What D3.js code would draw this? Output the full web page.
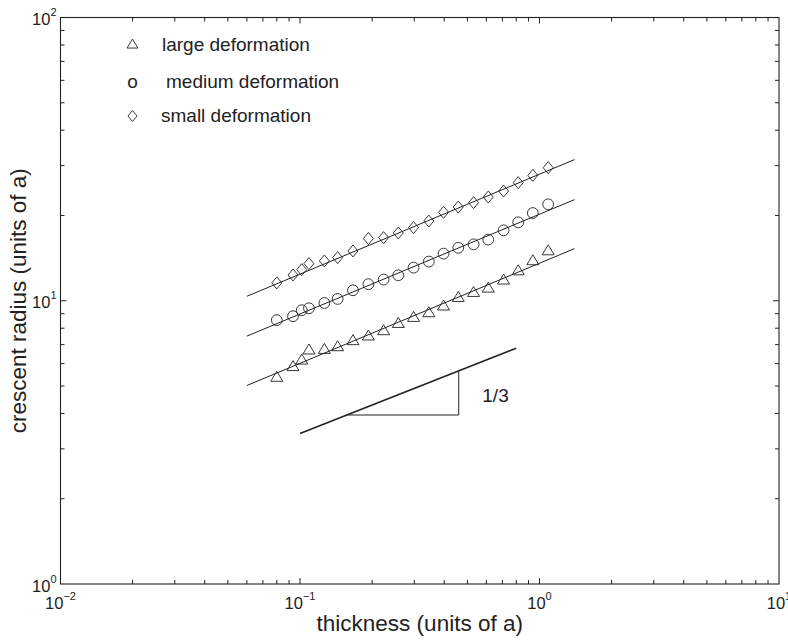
<!DOCTYPE html>
<html>
<head>
<meta charset="utf-8">
<script src="https://cdn.jsdelivr.net/npm/d3@7"></script>
<style>
  html, body { margin: 0; padding: 0; background: #fff; }
  svg { display: block; }
  text { font-family: "Liberation Sans", Arial, Helvetica, sans-serif; fill: #222; }
</style>
</head>
<body>
<svg id="chart" width="788" height="641"></svg>
<script>
// ---- data ----
const thickness = [0.080, 0.0935, 0.1017, 0.109, 0.1264, 0.1436, 0.1664, 0.193, 0.2234, 0.2573,
                   0.298, 0.345, 0.3976, 0.458, 0.5305, 0.611, 0.708, 0.815, 0.938, 1.087];
const largeDef  = [5.39, 5.88, 6.20, 6.73, 6.76, 6.91, 7.26, 7.54, 7.87, 8.35,
                   8.77, 9.11, 9.62, 10.31, 10.74, 11.13, 11.88, 12.81, 13.90, 15.07];
const mediumDef = [8.54, 8.82, 9.26, 9.41, 9.82, 10.15, 10.89, 11.44, 11.88, 12.30,
                   13.09, 13.75, 14.67, 15.38, 15.82, 16.44, 17.73, 18.92, 20.40, 21.90];
const smallDef  = [11.56, 12.33, 12.88, 13.53, 13.82, 14.20, 14.99, 16.58, 16.71, 17.35,
                   18.13, 19.12, 20.52, 21.42, 22.20, 23.24, 24.40, 26.12, 27.71, 29.50];
// fitted power-law lines (endpoints)
const fitX      = [0.06, 1.4];
const fitLarge  = [5.02, 15.28];
const fitMedium = [7.5, 22.75];
const fitSmall  = [10.37, 31.5];
// slope guide (1/3)
const slopeX = [0.1, 0.8];
const slopeY = [3.4, 6.8];
const triX = [0.158, 0.46];
const triY = [3.95, 5.65];
const slopeLabel = "1/3";
const seriesNames = ["large deformation", "medium deformation", "small deformation"];
const xTickExps = [-2, -1, 0, 1];
const yTickExps = [0, 1, 2];
const xLabel = "thickness (units of a)";
const yLabel = "crescent radius (units of a)";

// ---- layout ----
const svg = d3.select("#chart");
const L = 60.5, R = 779, T = 17.5, B = 584;
const x = d3.scaleLog().domain([0.01, 10]).range([L, R]);
const y = d3.scaleLog().domain([1, 100]).range([B, T]);
const ink = "#222";

// frame
svg.append("rect").attr("x", L).attr("y", T).attr("width", R - L).attr("height", B - T)
  .attr("fill", "none").attr("stroke", ink).attr("stroke-width", 1.1);

// ticks (inside, all four sides)
function logTicks(lo, hi) {
  const out = [];
  for (let e = lo; e < hi; e++) {
    for (let m = 1; m <= 9; m++) out.push({v: m * Math.pow(10, e), major: m === 1});
  }
  out.push({v: Math.pow(10, hi), major: true});
  return out;
}
const tg = svg.append("g").attr("stroke", ink).attr("stroke-width", 1);
logTicks(-2, 1).forEach(t => {
  const px = x(t.v), len = t.major ? 6 : 4;
  if (px <= L + 0.5 || px >= R - 0.5) return;
  tg.append("line").attr("x1", px).attr("x2", px).attr("y1", B).attr("y2", B - len);
  tg.append("line").attr("x1", px).attr("x2", px).attr("y1", T).attr("y2", T + len);
});
logTicks(0, 2).forEach(t => {
  const py = y(t.v), len = t.major ? 6 : 4;
  if (py >= B - 0.5 || py <= T + 0.5) return;
  tg.append("line").attr("y1", py).attr("y2", py).attr("x1", L).attr("x2", L + len);
  tg.append("line").attr("y1", py).attr("y2", py).attr("x1", R).attr("x2", R - len);
});

// tick labels
xTickExps.forEach(e => {
  const t = svg.append("text").attr("x", x(Math.pow(10, e))).attr("y", B + 25)
    .attr("text-anchor", "middle").style("font-size", "16.5px");
  t.append("tspan").text("10");
  t.append("tspan").attr("dy", -9).style("font-size", "11px").text(e < 0 ? "\u2212" + (-e) : String(e));
});
yTickExps.forEach(e => {
  const t = svg.append("text").attr("x", L - 4).attr("y", y(Math.pow(10, e)) + 7.5)
    .attr("text-anchor", "end").style("font-size", "16.5px");
  t.append("tspan").text("10");
  t.append("tspan").attr("dy", -9).style("font-size", "11px").text(String(e));
});

// axis titles
svg.append("text").attr("x", (L + R) / 2).attr("y", 631).attr("text-anchor", "middle")
  .style("font-size", "22.5px").text(xLabel);
svg.append("text").attr("transform", `translate(26,${(T + B) / 2}) rotate(-90)`)
  .attr("text-anchor", "middle").style("font-size", "22.5px").text(yLabel);

// fit lines
const line = d3.line().x(d => x(d[0])).y(d => y(d[1]));
[fitLarge, fitMedium, fitSmall].forEach(f => {
  svg.append("path").datum(fitX.map((v, i) => [v, f[i]])).attr("d", line)
    .attr("fill", "none").attr("stroke", ink).attr("stroke-width", 1);
});

// markers
const sw = 0.9;
const mk = svg.append("g").attr("fill", "none").attr("stroke", ink).attr("stroke-width", sw);
function tri(cx, cy, w, h) {
  return `M${cx},${cy - h * 0.55}L${cx + w / 2},${cy + h * 0.45}L${cx - w / 2},${cy + h * 0.45}Z`;
}
function dia(cx, cy, w, h) {
  return `M${cx},${cy - h / 2}L${cx + w / 2},${cy}L${cx},${cy + h / 2}L${cx - w / 2},${cy}Z`;
}
thickness.forEach((t, i) => {
  mk.append("path").attr("d", tri(x(t), y(largeDef[i]), 12, 10));
  mk.append("circle").attr("cx", x(t)).attr("cy", y(mediumDef[i])).attr("r", 5.4);
  mk.append("path").attr("d", dia(x(t), y(smallDef[i]), 10, 12));
});

// slope guide
svg.append("path").datum(slopeX.map((v, i) => [v, slopeY[i]])).attr("d", line)
  .attr("fill", "none").attr("stroke", ink).attr("stroke-width", 1.6);
svg.append("path").datum([[triX[0], triY[0]], [triX[1], triY[0]], [triX[1], triY[1]]]).attr("d", line)
  .attr("fill", "none").attr("stroke", ink).attr("stroke-width", 1);
svg.append("text").attr("x", x(0.577)).attr("y", y(3.95) - 13).style("font-size", "19px").text(slopeLabel);

// legend
const lg = svg.append("g");
lg.append("path").attr("d", tri(132.5, 44, 11, 9)).attr("fill", "none").attr("stroke", ink).attr("stroke-width", sw);
lg.append("text").attr("x", 162).attr("y", 51).style("font-size", "19px").text(seriesNames[0]);
lg.append("text").attr("x", 132.5).attr("y", 87.5).attr("text-anchor", "middle").style("font-size", "19px").text("o");
lg.append("text").attr("x", 166).attr("y", 87.5).style("font-size", "19px").text(seriesNames[1]);
lg.append("path").attr("d", dia(132.5, 116, 9, 11)).attr("fill", "none").attr("stroke", ink).attr("stroke-width", sw);
lg.append("text").attr("x", 161).attr("y", 121.5).style("font-size", "19px").text(seriesNames[2]);
</script>
</body>
</html>
